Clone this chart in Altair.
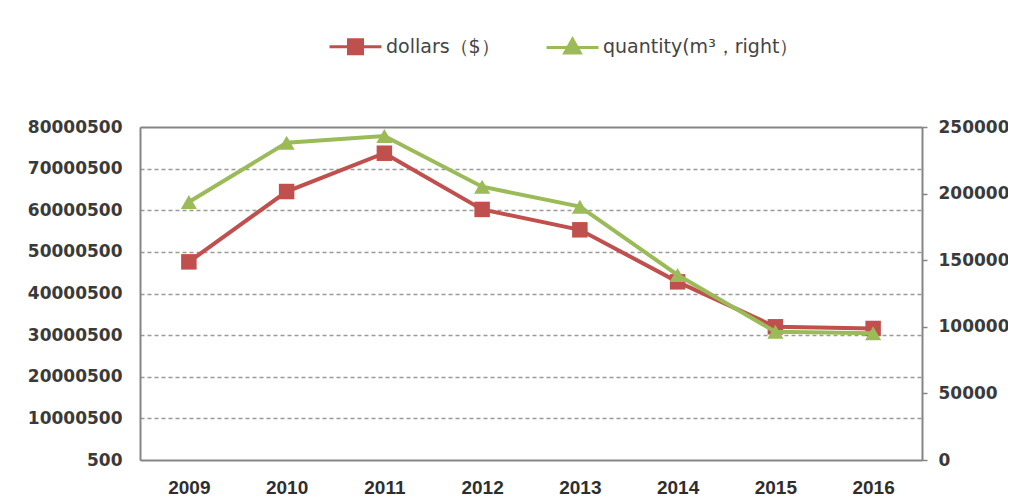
import altair as alt
import pandas as pd

years = ["2009", "2010", "2011", "2012", "2013", "2014", "2015", "2016"]
dollars = [47600000, 64500000, 73700000, 60200000, 55300000, 42800000, 32000000, 31600000]
quantity = [193700, 238200, 243200, 205200, 190200, 138900, 96300, 95100]
series_names = ["dollars（$）", "quantity(m³，right）"]
colors = ["#C0504D", "#9BBB59"]
left_ticks = [500 + 10000000 * i for i in range(9)]
right_ticks = [0, 50000, 100000, 150000, 200000, 250000]

df = pd.DataFrame({"year": years, "dollars": dollars, "quantity": quantity})
leg_df = pd.DataFrame({"series": series_names})

sq_path = "M-1,0H1M-0.27,-0.27H0.27V0.27H-0.27Z"
tri_path = "M-1,0H1M0,-0.32L0.3,0.22H-0.3Z"
frame = "#858585"
top_test = "datum.value >= 80000500"

x = alt.X(
    "year:O",
    scale=alt.Scale(padding=0.5),
    axis=alt.Axis(title=None, labelAngle=0, ticks=False, domain=True,
                  domainColor=frame, domainWidth=2,
                  labelPadding=18, labelFont="Liberation Sans", labelFontSize=19,
                  labelFontWeight="bold", labelColor="#2e2e2e"),
)

red = alt.Chart(df).mark_line(
    color=colors[0], strokeWidth=4,
    point=alt.OverlayMarkDef(shape="square", size=240, filled=True,
                             color=colors[0], opacity=1),
).encode(
    x=x,
    y=alt.Y("dollars:Q",
            scale=alt.Scale(domain=[500, 80000500], nice=False, zero=False),
            axis=alt.Axis(title=None, values=left_ticks, format="d", grid=True,
                          gridDash={"condition": {"test": top_test, "value": []}, "value": [4, 3]},
                          gridColor={"condition": {"test": top_test, "value": frame}, "value": "#9a9a9a"},
                          gridWidth={"condition": {"test": top_test, "value": 2}, "value": 1.5},
                          gridOpacity={"condition": {"test": "datum.value <= 500", "value": 0}, "value": 1},
                          ticks=False, domain=True, domainColor=frame, domainWidth=2,
                          labelPadding=18,
                          labelFont="DejaVu Sans", labelFontSize=17, labelFontWeight="bold",
                          labelColor="#3a3a3a")),
)

green = alt.Chart(df).mark_line(
    color=colors[1], strokeWidth=4,
    point=alt.OverlayMarkDef(shape="triangle-up", size=260, filled=True,
                             color=colors[1], opacity=1),
).encode(
    x=x,
    y=alt.Y("quantity:Q",
            scale=alt.Scale(domain=[0, 250000], nice=False),
            axis=alt.Axis(title=None, orient="right", values=right_ticks, format="d",
                          grid=False, ticks=True, tickSize=5, tickColor=frame,
                          tickWidth=1.5, domain=True, domainColor=frame, domainWidth=2,
                          labelPadding=11,
                          labelFont="DejaVu Sans", labelFontSize=17, labelFontWeight="bold",
                          labelColor="#3a3a3a")),
)

legend = alt.Legend(
    title=None, orient="none", legendX=188, legendY=-108, direction="horizontal",
    labelFont="DejaVu Sans", labelFontSize=19, labelColor="#444444", labelLimit=0,
    symbolSize=2700, symbolStrokeWidth=3, columnPadding=40, labelOffset=3,
)

legend_layer = alt.Chart(leg_df).transform_filter("false").mark_point(
    filled=True, opacity=1, strokeWidth=3
).encode(
    color=alt.Color("series:N", scale=alt.Scale(domain=series_names, range=colors), legend=legend),
    stroke=alt.Stroke("series:N", scale=alt.Scale(domain=series_names, range=colors), legend=legend),
    shape=alt.Shape("series:N", scale=alt.Scale(domain=series_names, range=[sq_path, tri_path]), legend=legend),
)

chart = alt.layer(red, green, legend_layer).resolve_scale(y="independent").properties(
    width=782, height=333, autosize="none",
    padding={"left": 132, "top": 119, "right": 86, "bottom": 42},
).configure_view(strokeWidth=0).configure(background="white")

chart.save("out.html", embed_options={"renderer": "svg", "actions": False})
